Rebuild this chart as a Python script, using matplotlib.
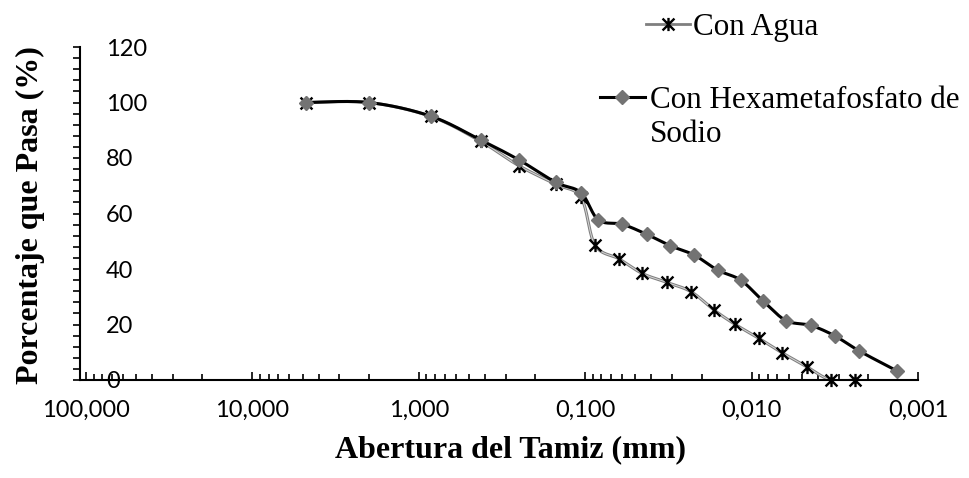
import numpy as np
import matplotlib
matplotlib.use("Agg")
import matplotlib.pyplot as plt
from matplotlib.path import Path
from matplotlib.lines import Line2D
from matplotlib.ticker import FixedLocator, FuncFormatter, MultipleLocator

# Grain size distribution: sieve openings (mm) and percent passing
agua_diam = [4.75, 2.0, 0.85, 0.425, 0.25, 0.15, 0.106,
             0.0873, 0.0624, 0.0454, 0.0324, 0.0231, 0.0168, 0.0126,
             0.00903, 0.00655, 0.00467, 0.00335, 0.00239]
agua_pasa = [100.0, 100.0, 95.0, 86.0, 77.2, 70.5, 65.8,
             48.6, 43.6, 38.4, 35.2, 31.8, 25.2, 20.1,
             15.0, 9.8, 4.8, 0.0, 0.0]

hexa_diam = [4.75, 2.0, 0.85, 0.425, 0.25, 0.15, 0.106,
             0.0834, 0.0598, 0.0427, 0.0309, 0.0221, 0.0160, 0.01164,
             0.00857, 0.00621, 0.00442, 0.00316, 0.00226, 0.00133]
hexa_pasa = [100.0, 100.0, 95.1, 86.5, 79.3, 71.2, 67.5,
             57.7, 56.1, 52.5, 48.4, 45.0, 39.6, 36.0,
             28.6, 21.4, 19.7, 15.9, 10.5, 3.2]

x_ticks = [100, 10, 1, 0.1, 0.01, 0.001]
y_ticks = [0, 20, 40, 60, 80, 100, 120]

label_agua = "Con Agua"
label_hexa = ["Con Hexametafosfato de", "Sodio"]
x_title = "Abertura del Tamiz (mm)"
y_title = "Porcentaje que Pasa (%)"

SERIF = ["Liberation Serif", "DejaVu Serif"]
SANS = ["Lato", "DejaVu Sans"]


def smooth_curve(xs, ys, n=40):
    """Cubic Bezier smoothing (Catmull-Rom style) in log10(x) space."""
    u = np.log10(np.asarray(xs, float))
    v = np.asarray(ys, float)
    P = np.column_stack([u, v])
    out = [P[0]]
    t = np.linspace(0, 1, n)[1:, None]
    m = len(P)
    for i in range(m - 1):
        p0 = P[i - 1] if i > 0 else P[i]
        p3 = P[i + 2] if i + 2 < m else P[i + 1]
        c1 = P[i] + (P[i + 1] - p0) / 6.0
        c2 = P[i + 1] - (p3 - P[i]) / 6.0
        seg = ((1 - t) ** 3) * P[i] + 3 * ((1 - t) ** 2) * t * c1 \
            + 3 * (1 - t) * t ** 2 * c2 + t ** 3 * P[i + 1]
        out.extend(seg)
    out = np.array(out)
    return 10 ** out[:, 0], out[:, 1]


# asterisk marker: vertical bar plus an X
star = Path([(0, -1), (0, 1), (-0.9, -0.9), (0.9, 0.9), (-0.9, 0.9), (0.9, -0.9)],
            [Path.MOVETO, Path.LINETO, Path.MOVETO, Path.LINETO, Path.MOVETO, Path.LINETO])

DIAMOND = dict(marker="D", ms=7.2, mew=1.0, mfc="#737373", mec="#737373")
ASTER = dict(marker=star, ms=9.5, mew=1.7, mec="black", mfc="none")

W, H = 970, 478
fig = plt.figure(figsize=(W / 100, H / 100), dpi=100)
ax = fig.add_axes([80 / W, 98 / H, 838 / W, 333 / H])

# Con Agua: thin gray double line with asterisks
sx, sy = smooth_curve(agua_diam, agua_pasa)
ax.plot(sx, sy, color="#7f7f7f", lw=2.2, solid_capstyle="butt", zorder=2)
ax.plot(sx, sy, color="#d6d6d6", lw=0.7, zorder=2.1)
ax.plot(agua_diam, agua_pasa, ls="none", zorder=3, clip_on=False, **ASTER)

# Con Hexametafosfato: black line with gray diamonds
hx, hy = smooth_curve(hexa_diam, hexa_pasa)
ax.plot(hx, hy, color="black", lw=2.2, zorder=4)
ax.plot(hexa_diam, hexa_pasa, ls="none", zorder=5, clip_on=False, **DIAMOND)

ax.set_xscale("log")
ax.set_xlim(108.7, 0.001)
ax.set_ylim(0, 120)

ax.xaxis.set_major_locator(FixedLocator(x_ticks))
ax.xaxis.set_major_formatter(FuncFormatter(lambda v, p: f"{v:.3f}".replace(".", ",")))
ax.yaxis.set_major_locator(FixedLocator(y_ticks))
ax.yaxis.set_minor_locator(MultipleLocator(4))

for s in ("top", "right"):
    ax.spines[s].set_visible(False)
for s in ("left", "bottom"):
    ax.spines[s].set_linewidth(1.5)

ax.tick_params(axis="x", which="major", direction="in", length=6, width=1.2, pad=14,
               labelsize=17)
ax.tick_params(axis="x", which="minor", direction="in", length=4.3, width=1.2)
ax.tick_params(axis="y", which="major", direction="out", length=5, width=1.2,
               pad=-23.7, labelsize=17)
ax.tick_params(axis="y", which="minor", direction="out", length=5, width=1.2)

for lab in ax.get_xticklabels() + ax.get_yticklabels():
    lab.set_family(SANS)
for lab in ax.get_yticklabels():
    lab.set_ha("left")

# axis titles
fig.text(511 / W, 1 - 450 / H, x_title, ha="center", va="center",
         fontsize=23, fontweight="bold", family=SERIF)
fig.text(30 / W, 1 - 215 / H, y_title, ha="center", va="center", rotation=90,
         fontsize=23, fontweight="bold", family=SERIF)

# legend (placed to the upper right, outside the plotting area)
y_a = 1 - 24 / H
fig.add_artist(Line2D([646 / W, 690 / W], [y_a, y_a], color="#7f7f7f", lw=2.0))
fig.add_artist(Line2D([668 / W], [y_a], ls="none", **ASTER))
fig.text(693 / W, y_a, label_agua, ha="left", va="center_baseline",
         fontsize=22.4, family=SERIF)

y_h = 1 - 97 / H
fig.add_artist(Line2D([600 / W, 645 / W], [y_h, y_h], color="black", lw=2.2))
fig.add_artist(Line2D([622 / W], [y_h], ls="none", **DIAMOND))
for k, line in enumerate(label_hexa):
    fig.text(650 / W, 1 - (97 + 34 * k) / H, line, ha="left", va="center_baseline",
             fontsize=22.4, family=SERIF)

fig.savefig("out.png", dpi=100)
